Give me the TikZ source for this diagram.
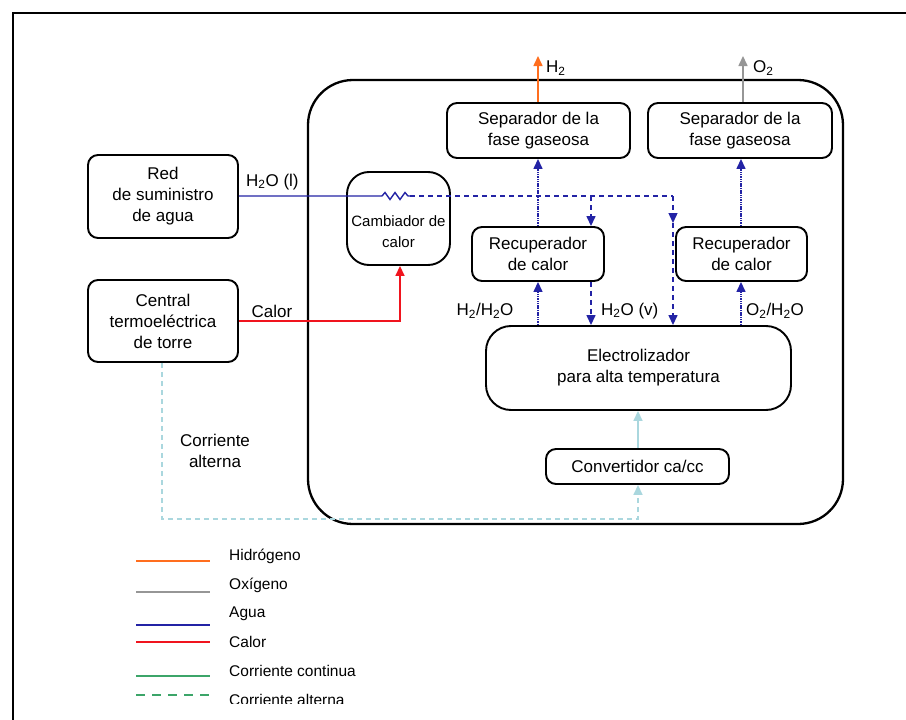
\documentclass[tikz,border=0pt]{standalone}
\usepackage{fontspec}
\setmainfont{Liberation Sans}
\usetikzlibrary{arrows.meta}
\definecolor{h2col}{RGB}{255,110,30}
\definecolor{o2col}{RGB}{150,150,150}
\definecolor{watercol}{RGB}{35,35,165}
\definecolor{heatcol}{RGB}{240,20,30}
\definecolor{dccol}{RGB}{60,165,105}
\definecolor{accol}{RGB}{170,215,222}
\newcommand{\sub}[1]{\textsubscript{#1}}
\begin{document}
\begin{tikzpicture}[x=1pt,y=-1pt,
  box/.style={draw,line width=1.9pt,rounded corners=10pt,align=center,
    font=\fontsize{17}{21}\selectfont,inner sep=0pt},
  lbl/.style={font=\fontsize{17}{21}\selectfont,inner sep=0pt,align=center},
  legtxt/.style={font=\fontsize{15.5}{18}\selectfont,inner sep=0pt,anchor=west},
  tip/.style={-{Triangle[length=10pt,width=9pt]}},
  water/.style={watercol,line width=1.4pt},
  waterdash/.style={watercol,line width=1.4pt,dash pattern=on 5pt off 4pt},
  waterdot/.style={watercol,line width=1.4pt,dash pattern=on 1.5pt off 0.8pt},
  heat/.style={heatcol,line width=1.6pt},
  acline/.style={accol,line width=1.6pt,dash pattern=on 5pt off 4pt},
  dcline/.style={accol,line width=1.6pt},
  legline/.style={line width=2.6pt}]
\useasboundingbox (0,0) rectangle (906,720);

% page frame
\draw[line width=1.8pt] (13,720) -- (13,13) -- (906,13);

% plant enclosure
\draw[line width=2.3pt,rounded corners=45pt] (308,80) rectangle (843,524);

% equipment
\node[box,minimum width=150pt,minimum height=83pt] (red) at (163,196.5) {Red\\de suministro\\de agua};
\node[box,minimum width=150pt,minimum height=82pt] (central) at (163,321) {Central\\termoeléctrica\\de torre};
\node[box,rounded corners=22pt,minimum width=103pt,minimum height=93pt] (camb) at (398.5,218.5) {};
\node[lbl,font=\fontsize{15}{21}\selectfont] (cambtxt) at (398.5,232) {Cambiador de\\calor};
\node[box,minimum width=183pt,minimum height=55pt] (sep1) at (538.5,130.5) {Separador de la\\fase gaseosa};
\node[box,minimum width=184pt,minimum height=55pt] (sep2) at (740,130.5) {Separador de la\\fase gaseosa};
\node[box,minimum width=132pt,minimum height=54pt] (rec1) at (538,254) {Recuperador\\de calor};
\node[box,minimum width=131pt,minimum height=54pt] (rec2) at (741.5,254) {Recuperador\\de calor};
\node[box,rounded corners=25pt,minimum width=305pt,minimum height=84pt] (elec) at (638.5,368) {Electrolizador\\para alta temperatura};
\node[box,minimum width=183pt,minimum height=35pt] (conv) at (637.5,466.5) {Convertidor ca/cc};

% product gases
\coordinate (h2out) at (538,56);
\coordinate (o2out) at (743,56);
\draw[h2col,line width=1.6pt,tip] (sep1.north -| h2out) -- (h2out);
\draw[o2col,line width=1.6pt,tip] (sep2.north -| o2out) -- (o2out);
\node[lbl,anchor=west] (h2lbl) at (546,68) {H\sub{2}};
\node[lbl,anchor=west] (o2lbl) at (753,68) {O\sub{2}};

% water feed through the heat exchanger coil
\coordinate (coilin) at (382,196);
\coordinate (coilout) at (410,196);
\coordinate (splitA) at (591,196);
\coordinate (splitB) at (673,196);
\draw[water] (red.east |- coilin) -- (coilin)
  -- (385,192.5) -- (390,199.5) -- (395,192.5) -- (400,199.5) -- (405,192.5) -- (408,196) -- (coilout);
\draw[waterdash] (coilout) -- (splitB);
\draw[waterdash,tip] (splitA) -- (splitA |- rec1.north);
\draw[waterdash,tip] (rec1.south -| splitA) -- (splitA |- elec.north);
\coordinate (bypass) at (673,223);
\draw[waterdash,tip] (splitB) -- (bypass);
\draw[waterdash,tip] (bypass) -- (splitB |- elec.north);
\node[lbl,anchor=west] (h2ov) at (601,311) {H\sub{2}O (v)};
\node[lbl,anchor=west] (h2ol) at (246,182) {H\sub{2}O (l)};

% gas mixtures leaving the electrolyser
\coordinate (gasA) at (538,0);
\coordinate (gasB) at (741,0);
\draw[waterdot,tip] (elec.north -| gasA) -- (rec1.south -| gasA);
\draw[waterdot,tip] (rec1.north -| gasA) -- (sep1.south -| gasA);
\draw[waterdot,tip] (elec.north -| gasB) -- (rec2.south -| gasB);
\draw[waterdot,tip] (rec2.north -| gasB) -- (sep2.south -| gasB);
\node[lbl] (h2mix) at (485,311) {H\sub{2}/H\sub{2}O};
\node[lbl] (o2mix) at (775,311) {O\sub{2}/H\sub{2}O};

% heat supply
\coordinate (heatbend) at (400,321);
\draw[heat,tip] (central.east |- heatbend) -- (heatbend) -- (camb.south -| heatbend);
\node[lbl] (calorlbl) at (272,311) {Calor};

% electrical supply
\coordinate (acA) at (162,519);
\coordinate (acB) at (638,519);
\draw[acline,tip] (central.south -| acA) -- (acA) -- (acB) -- (conv.south -| acB);
\draw[dcline,tip] (conv.north -| acB) -- (elec.south -| acB);
\node[lbl] (aclbl) at (215,451) {Corriente\\alterna};

% legend
\draw[legline,h2col] (136,561) -- (210,561);
\draw[legline,o2col] (136,592) -- (210,592);
\draw[legline,watercol] (136,625) -- (210,625);
\draw[legline,heatcol] (136,642) -- (210,642);
\draw[legline,dccol] (136,676) -- (210,676);
\draw[legline,dccol,dash pattern=on 9pt off 7pt] (136,695) -- (210,695);
\node[legtxt] (lh2) at (229,556) {Hidrógeno};
\node[legtxt] (lo2) at (229,585) {Oxígeno};
\node[legtxt] (lagua) at (229,614) {Agua};
\node[legtxt] (lcalor) at (229,642) {Calor};
\node[legtxt] (ldc) at (229,671) {Corriente continua};
\begin{scope}
  \clip (100,680) rectangle (420,703);
  \node[legtxt] (lac) at (229,700) {Corriente alterna};
\end{scope}
\end{tikzpicture}
\end{document}
